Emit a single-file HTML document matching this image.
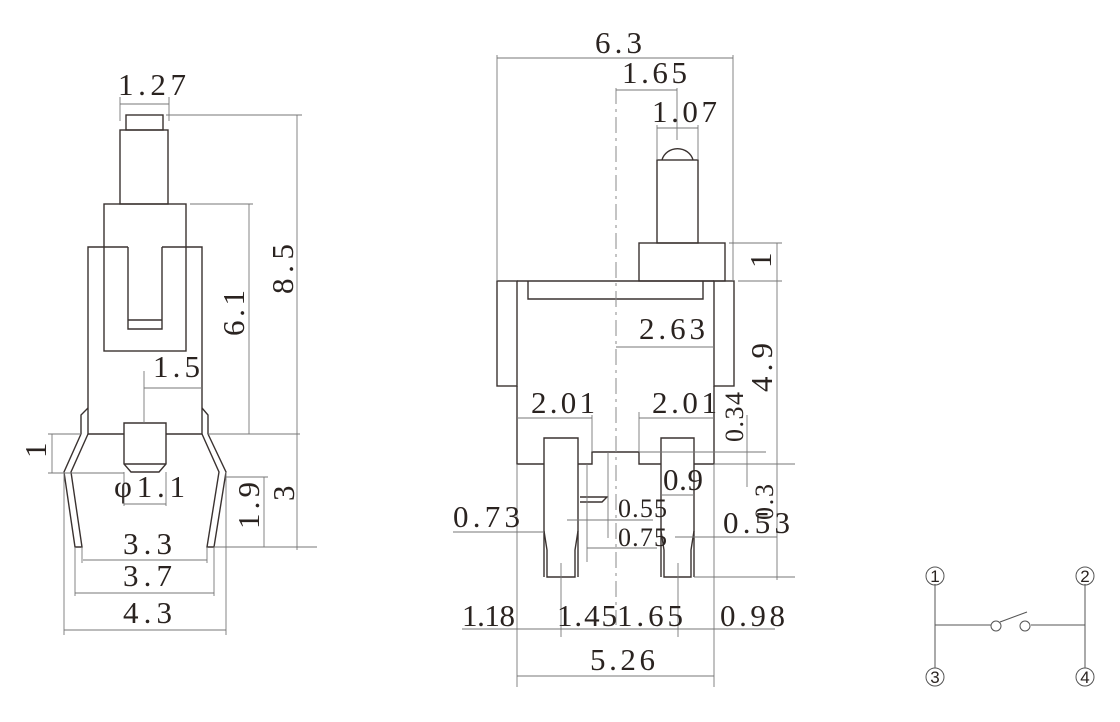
<!DOCTYPE html>
<html><head><meta charset="utf-8"><style>
html,body{margin:0;padding:0;background:#fff;}
svg{display:block;}
text{font-family:"Liberation Serif",serif;font-size:31px;fill:#2a2320;}
.o{stroke:#3a3230;stroke-width:1.4;fill:none;}
.d{stroke:#777;stroke-width:0.9;fill:none;}
.c{stroke:#888;stroke-width:1;fill:none;stroke-dasharray:16 5 3 5;}
</style></head><body>
<svg width="1120" height="722" viewBox="0 0 1120 722" xmlns="http://www.w3.org/2000/svg">
<!-- LEFT VIEW -->
<g class="o">
<rect x="126" y="115" width="37" height="15"/>
<rect x="120" y="130" width="48" height="74"/>
<rect x="104" y="204" width="82" height="147"/>
<polyline points="128,247 88,247 88,434 124,434"/>
<polyline points="162,247 202,247 202,434 166,434"/>
<polyline points="128,247 128,329 162,329 162,247"/>
<line x1="128" y1="320" x2="162" y2="320"/>
<polyline points="124,434 124,423 166,423 166,464 159,472 131,472 124,464 124,434"/>
<line x1="124" y1="464" x2="166" y2="464"/>
<polyline points="88,408 81,415 81,434"/>
<polyline points="202,408 208,415 208,434"/>
<polyline points="81,434 64,472 75,547 82,547 71,472 88,434"/>
<polyline points="208,434 226,472 214,547 207,547 219,472 202,434"/>
</g>
<g class="d">
<line x1="120" y1="104" x2="169" y2="104"/><line x1="120" y1="97" x2="120" y2="121"/><line x1="169" y1="97" x2="169" y2="121"/>
<line x1="166" y1="115" x2="302" y2="115"/>
<line x1="297" y1="115" x2="297" y2="550"/>
<line x1="190" y1="204" x2="253" y2="204"/>
<line x1="249" y1="204" x2="249" y2="434"/>
<line x1="208" y1="434" x2="300" y2="434"/>
<line x1="144" y1="371" x2="144" y2="423"/><line x1="144" y1="388" x2="202" y2="388"/>
<line x1="52" y1="434" x2="52" y2="473"/><line x1="48" y1="434" x2="81" y2="434"/><line x1="48" y1="473" x2="124" y2="473"/>
<line x1="124" y1="472" x2="124" y2="506"/><line x1="166" y1="472" x2="166" y2="506"/><line x1="124" y1="504" x2="166" y2="504"/>
<line x1="226" y1="477" x2="268" y2="477"/><line x1="264" y1="477" x2="264" y2="547"/>
<line x1="214" y1="547" x2="317" y2="547"/>
<line x1="83" y1="560" x2="207" y2="560"/><line x1="82" y1="547" x2="82" y2="563"/><line x1="207" y1="547" x2="207" y2="563"/>
<line x1="75" y1="593" x2="214" y2="593"/><line x1="75" y1="547" x2="75" y2="596"/><line x1="214" y1="547" x2="214" y2="596"/>
<line x1="64" y1="630" x2="226" y2="630"/><line x1="64" y1="472" x2="64" y2="635"/><line x1="226" y1="472" x2="226" y2="635"/>
</g>
<text x="118" y="95" textLength="68" lengthAdjust="spacing">1.27</text>
<text x="153" y="377" textLength="47" lengthAdjust="spacing">1.5</text>
<text x="114" y="497" textLength="71" lengthAdjust="spacing">φ1.1</text>
<text x="123" y="554" textLength="49" lengthAdjust="spacing">3.3</text>
<text x="123" y="586" textLength="49" lengthAdjust="spacing">3.7</text>
<text x="123" y="623" textLength="49" lengthAdjust="spacing">4.3</text>
<text transform="translate(293,294) rotate(-90)" textLength="50" lengthAdjust="spacing">8.5</text>
<text transform="translate(244,336) rotate(-90)" textLength="46" lengthAdjust="spacing">6.1</text>
<text transform="translate(46,458) rotate(-90)">1</text>
<text transform="translate(259,529) rotate(-90)" textLength="47" lengthAdjust="spacing">1.9</text>
<text transform="translate(294,501) rotate(-90)">3</text>

<!-- MIDDLE VIEW -->
<g class="o">
<path d="M662,160 A16,15 0 0 1 693,160"/>
<rect x="657" y="160" width="41" height="83"/>
<rect x="639" y="243" width="86" height="38"/>
<rect x="497" y="281" width="20" height="105"/>
<rect x="714" y="281" width="20" height="105"/>
<line x1="517" y1="281" x2="714" y2="281"/>
<polyline points="528,281 528,299 703,299 703,281"/>
<polyline points="517,386 517,464 544,464"/>
<polyline points="578,464 592,464 592,452 639,452 639,464 661,464"/>
<polyline points="694,464 714,464 714,386"/>
<polyline points="544,577 544,438 578,438 578,577"/>
<polyline points="544,531 547,550 547,577 575,577 575,550 578,531"/>
<polyline points="661,577 661,438 694,438 694,577"/>
<polyline points="661,531 664,550 664,577 691,577 691,550 694,531"/>
<polyline points="580,497 607,497 602,502 580,502"/>
</g>
<g class="c"><line x1="616" y1="88" x2="616" y2="625"/></g>
<g class="d">
<line x1="497" y1="58" x2="733" y2="58"/><line x1="497" y1="55" x2="497" y2="281"/><line x1="733" y1="55" x2="733" y2="281"/>
<line x1="616" y1="90" x2="677" y2="90"/><line x1="677" y1="88" x2="677" y2="140"/>
<line x1="657" y1="128" x2="698" y2="128"/><line x1="657" y1="125" x2="657" y2="160"/><line x1="698" y1="125" x2="698" y2="160"/>
<line x1="729" y1="243" x2="782" y2="243"/><line x1="738" y1="281" x2="782" y2="281"/>
<line x1="777" y1="243" x2="777" y2="580"/>
<line x1="616" y1="347" x2="714" y2="347"/>
<line x1="517" y1="418" x2="592" y2="418"/><line x1="592" y1="415" x2="592" y2="452"/>
<line x1="639" y1="418" x2="714" y2="418"/><line x1="639" y1="412" x2="639" y2="452"/>
<line x1="747" y1="415" x2="747" y2="487"/>
<line x1="639" y1="452" x2="766" y2="452"/>
<line x1="714" y1="464" x2="795" y2="464"/>
<line x1="694" y1="577" x2="795" y2="577"/>
<line x1="587" y1="464" x2="587" y2="562"/>
<line x1="608" y1="452" x2="608" y2="538"/>
<line x1="567" y1="520" x2="653" y2="520"/>
<line x1="587" y1="548" x2="657" y2="548"/>
<line x1="453" y1="532" x2="544" y2="532"/>
<line x1="661" y1="495" x2="694" y2="495"/>
<line x1="675" y1="537" x2="777" y2="537"/>
<line x1="462" y1="629" x2="775" y2="629"/>
<line x1="517" y1="464" x2="517" y2="687"/>
<line x1="714" y1="464" x2="714" y2="687"/>
<line x1="561" y1="563" x2="561" y2="637"/>
<line x1="678" y1="563" x2="678" y2="637"/>
<line x1="517" y1="676" x2="714" y2="676"/>
</g>
<text x="595" y="53" textLength="47" lengthAdjust="spacing">6.3</text>
<text x="622" y="83" textLength="65" lengthAdjust="spacing">1.65</text>
<text x="652" y="122" textLength="65" lengthAdjust="spacing">1.07</text>
<text x="639" y="339" textLength="66" lengthAdjust="spacing">2.63</text>
<text x="531" y="413" textLength="64" lengthAdjust="spacing">2.01</text>
<text x="652" y="413" textLength="65" lengthAdjust="spacing">2.01</text>
<text x="663" y="490" textLength="40" lengthAdjust="spacing">0.9</text>
<text x="618" y="517" textLength="49" lengthAdjust="spacing" style="font-size:26px">0.55</text>
<text x="618" y="546" textLength="49" lengthAdjust="spacing" style="font-size:26px">0.75</text>
<text x="453" y="527" textLength="67" lengthAdjust="spacing">0.73</text>
<text x="723" y="533" textLength="67" lengthAdjust="spacing">0.53</text>
<text x="462" y="626" textLength="53" lengthAdjust="spacing">1.18</text>
<text x="557" y="626" textLength="60" lengthAdjust="spacing">1.45</text>
<text x="617" y="626" textLength="66" lengthAdjust="spacing">1.65</text>
<text x="720" y="626" textLength="65" lengthAdjust="spacing">0.98</text>
<text x="590" y="670" textLength="65" lengthAdjust="spacing">5.26</text>
<text transform="translate(771,268) rotate(-90)">1</text>
<text transform="translate(772,392) rotate(-90)" textLength="49" lengthAdjust="spacing">4.9</text>
<text transform="translate(743,442) rotate(-90)" textLength="50" lengthAdjust="spacing" style="font-size:26px">0.34</text>
<text transform="translate(773,520) rotate(-90)" textLength="36" lengthAdjust="spacing" style="font-size:26px">0.3</text>

<!-- SCHEMATIC -->
<g style="stroke:#555;stroke-width:1;fill:none">
<line x1="935" y1="584" x2="935" y2="668"/>
<line x1="1085" y1="584" x2="1085" y2="668"/>
<line x1="935" y1="625" x2="991" y2="625"/>
<line x1="1031" y1="625" x2="1085" y2="625"/>
<circle cx="996" cy="626" r="5"/>
<circle cx="1025" cy="626" r="5"/>
<line x1="1000" y1="622" x2="1027" y2="612"/>
<circle cx="935" cy="576" r="9"/>
<circle cx="1085" cy="576" r="9"/>
<circle cx="935" cy="677" r="9"/>
<circle cx="1085" cy="677" r="9"/>
</g>
<g text-anchor="middle">
<text x="935" y="582" style="font-family:'Liberation Sans',sans-serif;font-size:17px">1</text>
<text x="1085" y="582" style="font-family:'Liberation Sans',sans-serif;font-size:17px">2</text>
<text x="935" y="683" style="font-family:'Liberation Sans',sans-serif;font-size:17px">3</text>
<text x="1085" y="683" style="font-family:'Liberation Sans',sans-serif;font-size:17px">4</text>
</g>
</svg>
</body></html>
